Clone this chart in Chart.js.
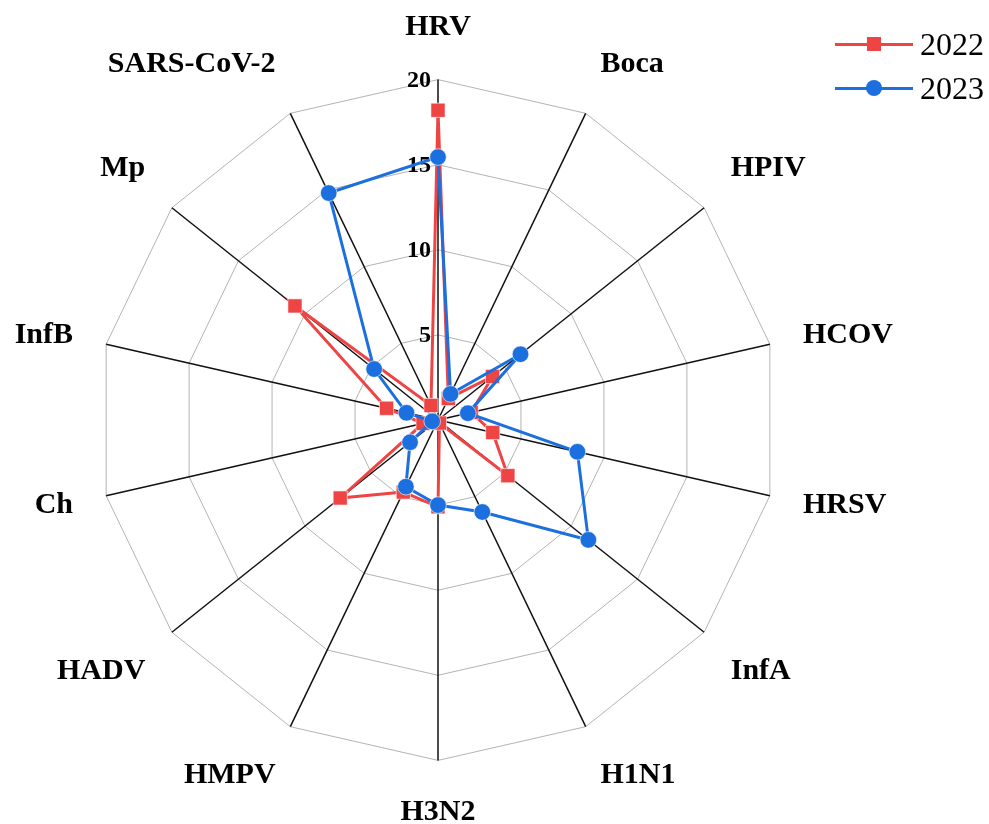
<!DOCTYPE html>
<html>
    <head>
        <meta charset="utf-8">
        <script src="https://cdn.jsdelivr.net/npm/chart.js"></script>
        <style>
            body { margin: 0; background: #fff; }
            .wrap { position: relative; width: 989px; height: 824px; }
            #legend { position: absolute; left: 835px; top: 22px; font-family: 'Liberation Serif', 'Times New Roman', serif; }
            .legendRow { display: flex; align-items: center; height: 44px; }
            .legendKey { position: relative; width: 78px; height: 20px; }
            .legendLine { position: absolute; left: 0; right: 0; top: 8.5px; height: 3px; }
            .legendMark { position: absolute; left: 50%; top: 50%; transform: translate(-50%, -50%); }
            .legendText { margin-left: 7px; font-size: 32px; line-height: 44px; color: #000; }
        </style>
    </head>
    <body>
        <div class="wrap">
            <canvas id="radar" width="989" height="824"></canvas>
            <div id="legend"></div>
        </div>
    </body>
    <script>
        const categories = ['HRV', 'Boca', 'HPIV', 'HCOV', 'HRSV', 'InfA', 'H1N1', 'H3N2', 'HMPV', 'HADV', 'Ch', 'InfB', 'Mp', 'SARS-CoV-2'];
        const values2022 = [18.2, 1.4, 4.1, 2.0, 3.3, 5.25, 0.2, 5.1, 4.7, 7.35, 0.9, 3.1, 10.75, 0.95];
        const values2023 = [15.45, 1.7, 6.2, 1.8, 8.4, 11.3, 6.0, 5.0, 4.35, 2.1, 0.35, 1.9, 4.8, 14.8];
        const tickValues = [5, 10, 15, 20];

        const serif = "'Liberation Serif', 'Times New Roman', serif";
        const red = '#EE4444';
        const blue = '#1C6FDE';

        // label placement: top/bottom labels sit a bit further out,
        // near-horizontal ones are centred on their spoke
        function labelKind(i){
            if (i === 0 || i === 7) return 'vert';
            if (i === 3 || i === 4 || i === 10 || i === 11) return 'side';
            return 'other';
        }

        // tick numbers sit just left of the vertical axis, under the data
        const tickLabels = {
            id: 'tickLabels',
            beforeDatasetsDraw(chart) {
                const s = chart.scales.r;
                const ctx = chart.ctx;
                ctx.save();
                ctx.font = 'bold 24px ' + serif;
                ctx.fillStyle = '#000';
                ctx.textAlign = 'right';
                ctx.textBaseline = 'middle';
                tickValues.forEach(function(v){
                    const y = s.yCenter - s.getDistanceFromCenterForValue(v);
                    ctx.fillText(String(v), s.xCenter - 7, y + 1);
                });
                ctx.restore();
            }
        };

        const data = {
            labels: categories,
            datasets: [{
                label: '2022',
                data: values2022,
                borderColor: red,
                backgroundColor: red,
                pointBackgroundColor: red,
                pointBorderColor: 'rgba(255,255,255,0.6)',
                pointBorderWidth: 1,
                pointStyle: 'rect',
                pointRadius: 10,
                pointHoverRadius: 10,
                borderWidth: 3,
                fill: false,
                order: 1
            },
            {
                label: '2023',
                data: values2023,
                borderColor: blue,
                backgroundColor: blue,
                pointBackgroundColor: blue,
                pointBorderColor: 'rgba(255,255,255,0.6)',
                pointBorderWidth: 1,
                pointStyle: 'circle',
                pointRadius: 8.3,
                pointHoverRadius: 8.3,
                borderWidth: 3,
                fill: false,
                order: 0
            }]
        };

        const config = {
            type: 'radar',
            data: data,
            options: {
                responsive: false,
                devicePixelRatio: 1,
                animation: false,
                layout: {
                    padding: { top: 16, bottom: 0, left: 0, right: 80 }
                },
                plugins: {
                    legend: { display: false },
                    tooltip: { enabled: false }
                },
                elements: {
                    line: { tension: 0 }
                },
                scales: {
                    r: {
                        min: 0,
                        max: 20,
                        ticks: {
                            stepSize: 5,
                            display: false
                        },
                        grid: {
                            color: '#b3b3b3',
                            lineWidth: 1
                        },
                        angleLines: {
                            color: '#111',
                            lineWidth: 1.5
                        },
                        pointLabels: {
                            color: '#000',
                            padding: function(ctx){
                                return labelKind(ctx.index) === 'vert' ? 41 : 34;
                            },
                            font: function(ctx){
                                const k = labelKind(ctx.index);
                                const lh = k === 'vert' ? 22 / 30 : (k === 'side' ? 0.1 : 1.2);
                                return { family: serif, size: 30, weight: 'bold', lineHeight: lh };
                            }
                        }
                    }
                }
            },
            plugins: [tickLabels]
        };

        const chart = new Chart(document.getElementById('radar'), config);

        // legend built from the chart's own datasets
        function buildLegend(){
            const box = document.getElementById('legend');
            chart.data.datasets.forEach(function(ds){
                const row = document.createElement('div');
                row.className = 'legendRow';
                const key = document.createElement('div');
                key.className = 'legendKey';
                const line = document.createElement('div');
                line.className = 'legendLine';
                line.style.background = ds.borderColor;
                const mark = document.createElement('div');
                mark.className = 'legendMark';
                mark.style.background = ds.pointBackgroundColor;
                if (ds.pointStyle === 'circle') {
                    mark.style.width = '16px';
                    mark.style.height = '16px';
                    mark.style.borderRadius = '50%';
                } else {
                    mark.style.width = '14px';
                    mark.style.height = '14px';
                }
                key.appendChild(line);
                key.appendChild(mark);
                const text = document.createElement('span');
                text.className = 'legendText';
                text.textContent = ds.label;
                row.appendChild(key);
                row.appendChild(text);
                box.appendChild(row);
            });
        }
        buildLegend();
    </script>
</html>
